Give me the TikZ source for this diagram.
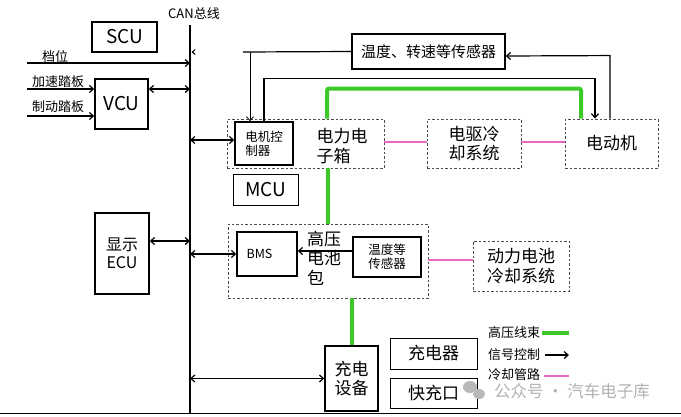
\documentclass[tikz,border=0pt]{standalone}
\usepackage{fontspec}
\setmainfont{Noto Sans CJK SC}
\usetikzlibrary{arrows.meta}
\tikzset{
  px/.style={x=1pt,y=-1pt},
  box/.style={draw=black,line width=1.4pt,inner sep=0pt,align=center,fill=white},
  dbox/.style={draw=black!70,dashed,dash pattern=on 2.5pt off 2pt,line width=0.9pt,inner sep=0pt,align=center},
  sig/.style={line width=1.2pt,-{Straight Barb[length=4pt,width=7pt]}},
  bisig/.style={line width=1.2pt,{Straight Barb[length=4pt,width=7pt]}-{Straight Barb[length=4pt,width=7pt]}},
  hv/.style={draw={rgb,255:red,60;green,200;blue,40},line width=4pt},
  pipe/.style={draw={rgb,255:red,232;green,105;blue,195},line width=1.4pt},
  fs/.style={font=\fontsize{#1}{\dimexpr #1pt*115/100\relax}\selectfont},
}
\begin{document}
\begin{tikzpicture}[px]
\useasboundingbox (0,0) rectangle (681,416);
% bus
\coordinate (canT) at (190,25);
\coordinate (canB) at (190,413);
\draw[line width=2.5pt] (canT) -- (canB);
\node[fs=13] (canlbl) at (194,14) {CAN总线};
\coordinate (bl) at (0,413.5);
\coordinate (br) at (681,413.5);
\draw[line width=1.4pt] (bl) -- (br);

% boxes
\node[box,fs=19,minimum width=65pt,minimum height=30pt] (SCU) at (124.5,37) {SCU};
\node[box,fs=19,minimum width=53pt,minimum height=50pt] (VCU) at (121.5,104) {VCU};
\node[dbox,minimum width=157pt,minimum height=49pt] (pe) at (305.5,143.5) {};
\node[fs=17,align=left] (petxt) at (342,146) {电力电\\子箱};
\node[box,fs=12.5,minimum width=58pt,minimum height=43pt] (mc) at (264,143.5) {电机控\\制器\hspace*{1em}};
\node[box,fs=15,minimum width=153pt,minimum height=35pt] (sens) at (428.5,51.5) {温度、转速等传感器};
\node[dbox,fs=17,minimum width=94pt,minimum height=49pt] (cool1) at (474,143.5) {电驱冷\\却系统};
\node[dbox,fs=17,minimum width=93pt,minimum height=49pt] (motor) at (611.5,143.5) {电动机};
\node[box,line width=0.9pt,fs=19,minimum width=65pt,minimum height=31pt] (MCU) at (265.5,189.5) {MCU};
\node[box,fs=16,minimum width=54pt,minimum height=81pt] (ECU) at (122,253.5) {显示\\ECU};
\node[dbox,minimum width=200pt,minimum height=74pt] (bat) at (328,261) {};
\node[box,fs=12.5,minimum width=60pt,minimum height=44pt] (BMS) at (267,254) {BMS\hspace*{1.2em}};
\node[box,fs=12.5,minimum width=68pt,minimum height=40pt] (tsens) at (387,257) {温度等\\传感器};
\node[fs=17,align=left,inner sep=0pt] (battxt) at (324,258) {高压\\电池\\包};
\node[dbox,fs=17,minimum width=96pt,minimum height=50pt] (cool2) at (521,266) {动力电池\\冷却系统};
\node[box,fs=17,minimum width=53pt,minimum height=65pt] (chg) at (351.5,378.5) {充电\\设备};
\node[box,line width=0.9pt,fs=17,minimum width=87pt,minimum height=31pt] (charger) at (433.5,353.5) {充电器};
\node[box,line width=0.9pt,fs=17,minimum width=87pt,minimum height=30pt] (fast) at (433.5,393) {快充口};

% inputs
\coordinate (gearS) at (27,63);
\coordinate (accS) at (27,89);
\coordinate (brkS) at (27,116);
\node[fs=13] (gearl) at (55,57) {档位};
\node[fs=13] (accl) at (58,82) {加速踏板};
\node[fs=13] (brkl) at (58,107) {制动踏板};
\draw[sig] (gearS) -- (gearS -| canT);
\draw[sig] (accS) -- (accS -| VCU.west);
\draw[sig] (brkS) -- (brkS -| VCU.west);

% bus links
\draw[bisig] ([yshift=15pt]VCU.east) -- ([yshift=15pt]VCU.east -| canT);
\draw[bisig] ([yshift=3.5pt]mc.west) -- ([yshift=3.5pt]mc.west -| canT);
\draw[bisig] ([yshift=12.5pt]ECU.east) -- ([yshift=12.5pt]ECU.east -| canT);
\draw[bisig] (BMS.west) -- (BMS.west -| canT);
\draw[bisig] (chg.west) -- (chg.west -| canT);

% sensor lines
\coordinate (sj) at (243,52);
\coordinate (sjd) at (250,52);
\coordinate (cantip) at (194,52);
\draw[line width=1.2pt] (sens.west) -- (sj);
\draw[line width=0.8pt,-{Straight Barb[length=4pt,width=7pt]}] (sjd) -- (sjd |- mc.north);
\draw[line width=1pt,-{Straight Barb[length=3pt,width=5pt]}] (cantip) -- ++(-2.5,0);
\draw[sig] (mc.north) -- ++(0,-43) -| ([xshift=-16.5pt]motor.north);
\draw[sig] ([xshift=-1.5pt]motor.north) -- ++(0,-63) -- ([yshift=-4.5pt]sens.east);
\draw[sig] ([yshift=6pt]tsens.west) -- ([yshift=6pt]tsens.west -| BMS.east);

% high voltage
\draw[hv,rounded corners=2pt] ([xshift=21.5pt]pe.north) -- ++(0,-30) -| ([xshift=-30.5pt]motor.north);
\draw[hv] (pe.south -| bat.north) -- (bat.north);
\draw[hv] (bat.south -| chg.north) -- (chg.north);

% cooling
\draw[pipe] ([yshift=1.5pt]pe.east) -- ([yshift=1.5pt]cool1.west);
\draw[pipe] ([yshift=1.5pt]cool1.east) -- ([yshift=1.5pt]motor.west);
\draw[pipe] ([yshift=1pt]bat.east) -- ([yshift=1pt]bat.east -| cool2.west);

% legend
\node[fs=13] (lg1) at (514,333) {高压线束};
\node[fs=13] (lg2) at (514,355) {信号控制};
\node[fs=13] (lg3) at (514,375) {冷却管路};
\coordinate (l1a) at (542,333); \coordinate (l1b) at (569,333);
\coordinate (l2a) at (545,355); \coordinate (l2b) at (569,355);
\coordinate (l3a) at (544,376); \coordinate (l3b) at (569,376);
\draw[hv] (l1a) -- (l1b);
\draw[sig] (l2a) -- (l2b);
\draw[pipe] (l3a) -- (l3b);

% watermark
\fill[black!28] (470,387) ellipse (7pt and 6pt);
\fill[black!28] (479,394) ellipse (6pt and 5pt);
\node[fs=16.5,text=black!30] (wm) at (572,391) {公众号 · 汽车电子库};
\end{tikzpicture}
\end{document}
